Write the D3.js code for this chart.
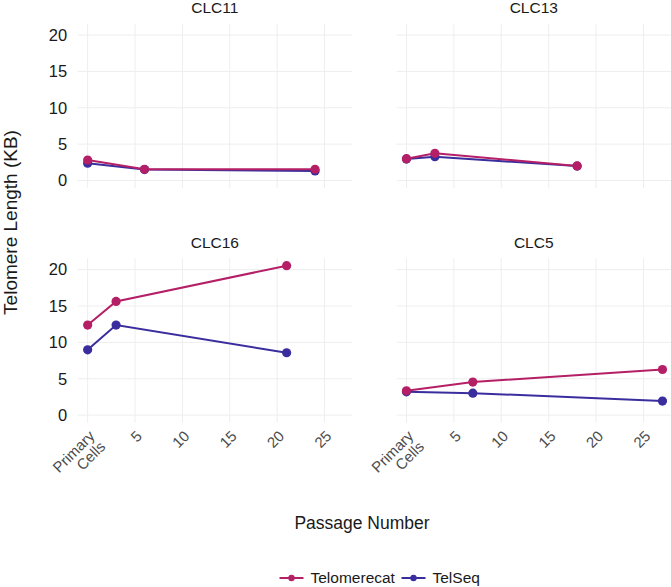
<!DOCTYPE html>
<html>
<head>
<meta charset="utf-8">
<script src="https://cdn.jsdelivr.net/npm/d3@7"></script>
<style>
  html, body { margin: 0; padding: 0; background: #fff; }
  svg { display: block; font-family: "Liberation Sans", Arial, Helvetica, sans-serif; }
</style>
</head>
<body>
<svg id="chart" width="671" height="587"></svg>
<script>
// ---- data ----
const panelNames = ["CLC11", "CLC13", "CLC16", "CLC5"];
const seriesNames = ["Telomerecat", "TelSeq"];
const seriesColors = ["#B41F66", "#3A2E9E"];

const clc11Passage = [0, 6, 24];
const clc11Telomerecat = [2.82, 1.55, 1.55];
const clc11TelSeq = [2.37, 1.50, 1.31];

const clc13Passage = [0, 3, 18];
const clc13Telomerecat = [3.00, 3.74, 2.00];
const clc13TelSeq = [2.95, 3.27, 1.99];

const clc16Passage = [0, 3, 21];
const clc16Telomerecat = [12.38, 15.63, 20.54];
const clc16TelSeq = [8.98, 12.38, 8.57];

const clc5Passage = [0, 7, 27];
const clc5Telomerecat = [3.34, 4.54, 6.27];
const clc5TelSeq = [3.20, 3.02, 1.93];

const xTicks = [0, 5, 10, 15, 20, 25];
const xTickLabels = ["Primary\nCells", "5", "10", "15", "20", "25"];
const yTicks = [0, 5, 10, 15, 20];

const xTitle = "Passage Number";
const yTitle = "Telomere Length (KB)";

// ---- build ----
const panelData = [
  { name: panelNames[0], x: clc11Passage, s: [clc11Telomerecat, clc11TelSeq] },
  { name: panelNames[1], x: clc13Passage, s: [clc13Telomerecat, clc13TelSeq] },
  { name: panelNames[2], x: clc16Passage, s: [clc16Telomerecat, clc16TelSeq] },
  { name: panelNames[3], x: clc5Passage, s: [clc5Telomerecat, clc5TelSeq] }
];

const svg = d3.select("#chart");
const xDomain = [-1.05, 27.9];
const yDomain = [-1.03, 21.57];
const colX = [[77.7, 352], [396.5, 671]];
const rowY = [[188, 23.6], [422.6, 258.2]];
const gridColor = "#EEEEEE";

panelData.forEach((p, i) => {
  const col = i % 2, row = Math.floor(i / 2);
  const x = d3.scaleLinear().domain(xDomain).range(colX[col]);
  const y = d3.scaleLinear().domain(yDomain).range(rowY[row]);
  const g = svg.append("g");

  // gridlines
  g.selectAll("line.gx").data(xTicks).join("line")
    .attr("x1", d => x(d)).attr("x2", d => x(d))
    .attr("y1", y.range()[0]).attr("y2", y.range()[1])
    .attr("stroke", gridColor).attr("stroke-width", 1);
  g.selectAll("line.gy").data(yTicks).join("line")
    .attr("x1", x.range()[0]).attr("x2", x.range()[1])
    .attr("y1", d => y(d)).attr("y2", d => y(d))
    .attr("stroke", gridColor).attr("stroke-width", 1);

  // strip title
  g.append("text")
    .attr("x", (x.range()[0] + x.range()[1]) / 2)
    .attr("y", y.range()[1] - 10.5)
    .attr("text-anchor", "middle")
    .attr("font-size", 15.5).attr("fill", "#1a1a1a")
    .text(p.name);

  // y axis labels on left column
  if (col === 0) {
    const ax = g.append("g").attr("transform", `translate(${x.range()[0] - 10.5},0)`)
      .call(d3.axisLeft(y).tickValues(yTicks).tickSize(0).tickPadding(0));
    ax.select(".domain").remove();
    ax.selectAll("text").attr("font-size", 16.5).attr("fill", "#1a1a1a")
      .attr("font-family", "Liberation Sans, Arial, sans-serif");
  }

  // x labels on bottom row
  if (row === 1) {
    const lab = g.selectAll("g.xl").data(xTicks).join("g")
      .attr("transform", d => `translate(${x(d)},${y.range()[0] + 6.5}) rotate(-45)`);
    lab.append("text")
      .attr("text-anchor", "end")
      .attr("font-size", 15).attr("fill", "#4d4d4d")
      .each(function(d, j) {
        const lines = xTickLabels[j].split("\n");
        const t = d3.select(this);
        lines.forEach((ln, k) => {
          t.append("tspan").attr("x", 0)
            .attr("dy", k === 0 ? "0.75em" : "1.0em")
            .text(ln);
        });
      });
  }

  // series: TelSeq first then Telomerecat on top
  [1, 0].forEach(si => {
    const pts = p.x.map((xv, k) => [xv, p.s[si][k]]);
    g.append("path")
      .attr("d", d3.line().x(d => x(d[0])).y(d => y(d[1]))(pts))
      .attr("fill", "none").attr("stroke", seriesColors[si]).attr("stroke-width", 2);
    g.selectAll(null).data(pts).join("circle")
      .attr("cx", d => x(d[0])).attr("cy", d => y(d[1])).attr("r", 4.6)
      .attr("fill", seriesColors[si]);
  });
});

// axis titles
svg.append("text").attr("x", 362).attr("y", 528.5)
  .attr("text-anchor", "middle").attr("font-size", 17.5).attr("fill", "#1a1a1a")
  .text(xTitle);
svg.append("text")
  .attr("transform", "translate(16.5,222.5) rotate(-90)")
  .attr("text-anchor", "middle").attr("font-size", 19).attr("fill", "#1a1a1a")
  .text(yTitle);

// legend
const legX = [279.5, 401.5];
seriesNames.forEach((nm, i) => {
  const lg = svg.append("g").attr("transform", `translate(${legX[i]},578)`);
  lg.append("line").attr("x1", 0).attr("x2", 24).attr("y1", 0).attr("y2", 0)
    .attr("stroke", seriesColors[i]).attr("stroke-width", 2);
  lg.append("circle").attr("cx", 12).attr("cy", 0).attr("r", 3.2).attr("fill", seriesColors[i]);
  lg.append("text").attr("x", 31).attr("y", 0).attr("dy", "0.35em")
    .attr("font-size", 15.5).attr("fill", "#1a1a1a").text(nm);
});
</script>
</body>
</html>
